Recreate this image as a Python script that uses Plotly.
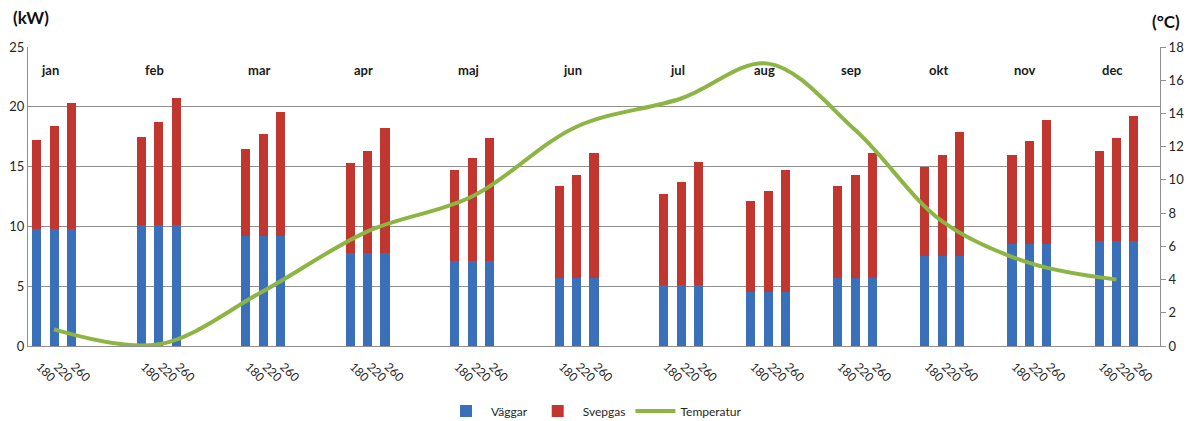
import plotly.graph_objects as go

# ---- data ----
months = ["jan", "feb", "mar", "apr", "maj", "jun", "jul", "aug", "sep", "okt", "nov", "dec"]
sizes = ["180", "220", "260"]
# Väggar (same for every size within a month)
vaggar = [9.8, 10.1, 9.2, 7.8, 7.1, 5.7, 5.1, 4.5, 5.7, 7.5, 8.5, 8.8]
# Svepgas per size
svep_180 = [7.4, 7.4, 7.3, 7.5, 7.6, 7.7, 7.6, 7.6, 7.7, 7.5, 7.5, 7.5]
svep_220 = [8.6, 8.6, 8.5, 8.5, 8.6, 8.6, 8.6, 8.5, 8.6, 8.5, 8.6, 8.6]
svep_260 = [10.5, 10.6, 10.4, 10.4, 10.3, 10.4, 10.3, 10.2, 10.4, 10.4, 10.4, 10.4]
# Temperature (°C), one per month
temperatur = [1.0, 0.1, 3.3, 6.9, 9.0, 13.2, 14.9, 17.0, 13.0, 7.5, 5.0, 4.0]
# blank category rows after each month group in the source sheet
blank_rows_after = [3, 3, 3, 3, 3, 3, 2, 2, 2, 2, 2, 1]

# ---- build category slots ----
slots = []
pos = 0
for m in range(len(months)):
    slots.append([pos + k for k in range(len(sizes))])
    pos += len(sizes) + blank_rows_after[m]
n_slots = pos

svep = [svep_180, svep_220, svep_260]
bar_x, bar_v, bar_s, tick_text = [], [], [], []
for m in range(len(months)):
    for k in range(len(sizes)):
        bar_x.append(slots[m][k])
        bar_v.append(vaggar[m])
        bar_s.append(svep[k][m])
        tick_text.append(sizes[k])
temp_x = [slots[m][1] for m in range(len(months))]

FONT = "Lato"
GRID = "#8f8f8f"

fig = go.Figure()
fig.add_trace(go.Bar(x=bar_x, y=bar_v, name="Väggar", marker_color="#3a70ba",
                     marker_line_width=0, width=0.52))
fig.add_trace(go.Bar(x=bar_x, y=bar_s, name="Svepgas", marker_color="#c1362f",
                     marker_line_width=0, width=0.52))
fig.add_trace(go.Scatter(x=temp_x, y=temperatur, name="Temperatur", yaxis="y2",
                         mode="lines", line=dict(color="#8db543", width=4,
                                                 shape="spline", smoothing=1.0)))

for m, name in enumerate(months):
    fig.add_annotation(x=slots[m][1], y=0.923, xref="x", yref="paper", text=f"<b>{name}</b>",
                       showarrow=False, xshift=-4, xanchor="center", yanchor="middle",
                       font=dict(family=FONT, size=13, color="#1a1a1a"))

fig.add_annotation(x=0.003, y=1.097, xref="paper", yref="paper", text="<b>(kW)</b>",
                   showarrow=False, xanchor="center", yanchor="middle",
                   font=dict(family=FONT, size=17, color="#111"))
fig.add_annotation(x=1.005, y=1.084, xref="paper", yref="paper", text="<b>(°C)</b>",
                   showarrow=False, xanchor="center", yanchor="middle",
                   font=dict(family=FONT, size=17, color="#111"))

fig.update_layout(
    width=1189, height=421,
    margin=dict(l=28, r=29, t=47, b=75, autoexpand=False),
    paper_bgcolor="white", plot_bgcolor="white",
    barmode="stack",
    font=dict(family=FONT, size=12, color="#262626"),
    showlegend=True,
    legend=dict(orientation="h", x=0.5, xanchor="center", y=-0.217, yanchor="middle",
                font=dict(family=FONT, size=12, color="#262626"), itemwidth=40,
                traceorder="normal"),
    xaxis=dict(range=[-0.5, n_slots - 0.5], tickmode="array", tickvals=bar_x,
               ticktext=tick_text, tickangle=45, showgrid=False, showline=True,
               linecolor=GRID, linewidth=1, ticks="", zeroline=False, automargin=False,
               ticklabelstandoff=8, ticklabelshift=3,
               tickfont=dict(family=FONT, size=12, color="#262626")),
    yaxis=dict(range=[0, 25], dtick=5, showgrid=True, gridcolor=GRID, gridwidth=1,
               showline=True, linecolor=GRID, ticks="", zeroline=False, automargin=False,
               tickfont=dict(family=FONT, size=13, color="#262626")),
    yaxis2=dict(range=[0, 18], dtick=2, overlaying="y", side="right", showgrid=False,
                showline=True, linecolor=GRID, ticks="outside", ticklen=5, tickcolor=GRID,
                zeroline=False, automargin=False,
                tickfont=dict(family=FONT, size=13, color="#262626")),
)

fig.write_html("out.html", config={"displayModeBar": False},
               post_script="document.body.style.margin='0';document.body.style.overflow='hidden';")
